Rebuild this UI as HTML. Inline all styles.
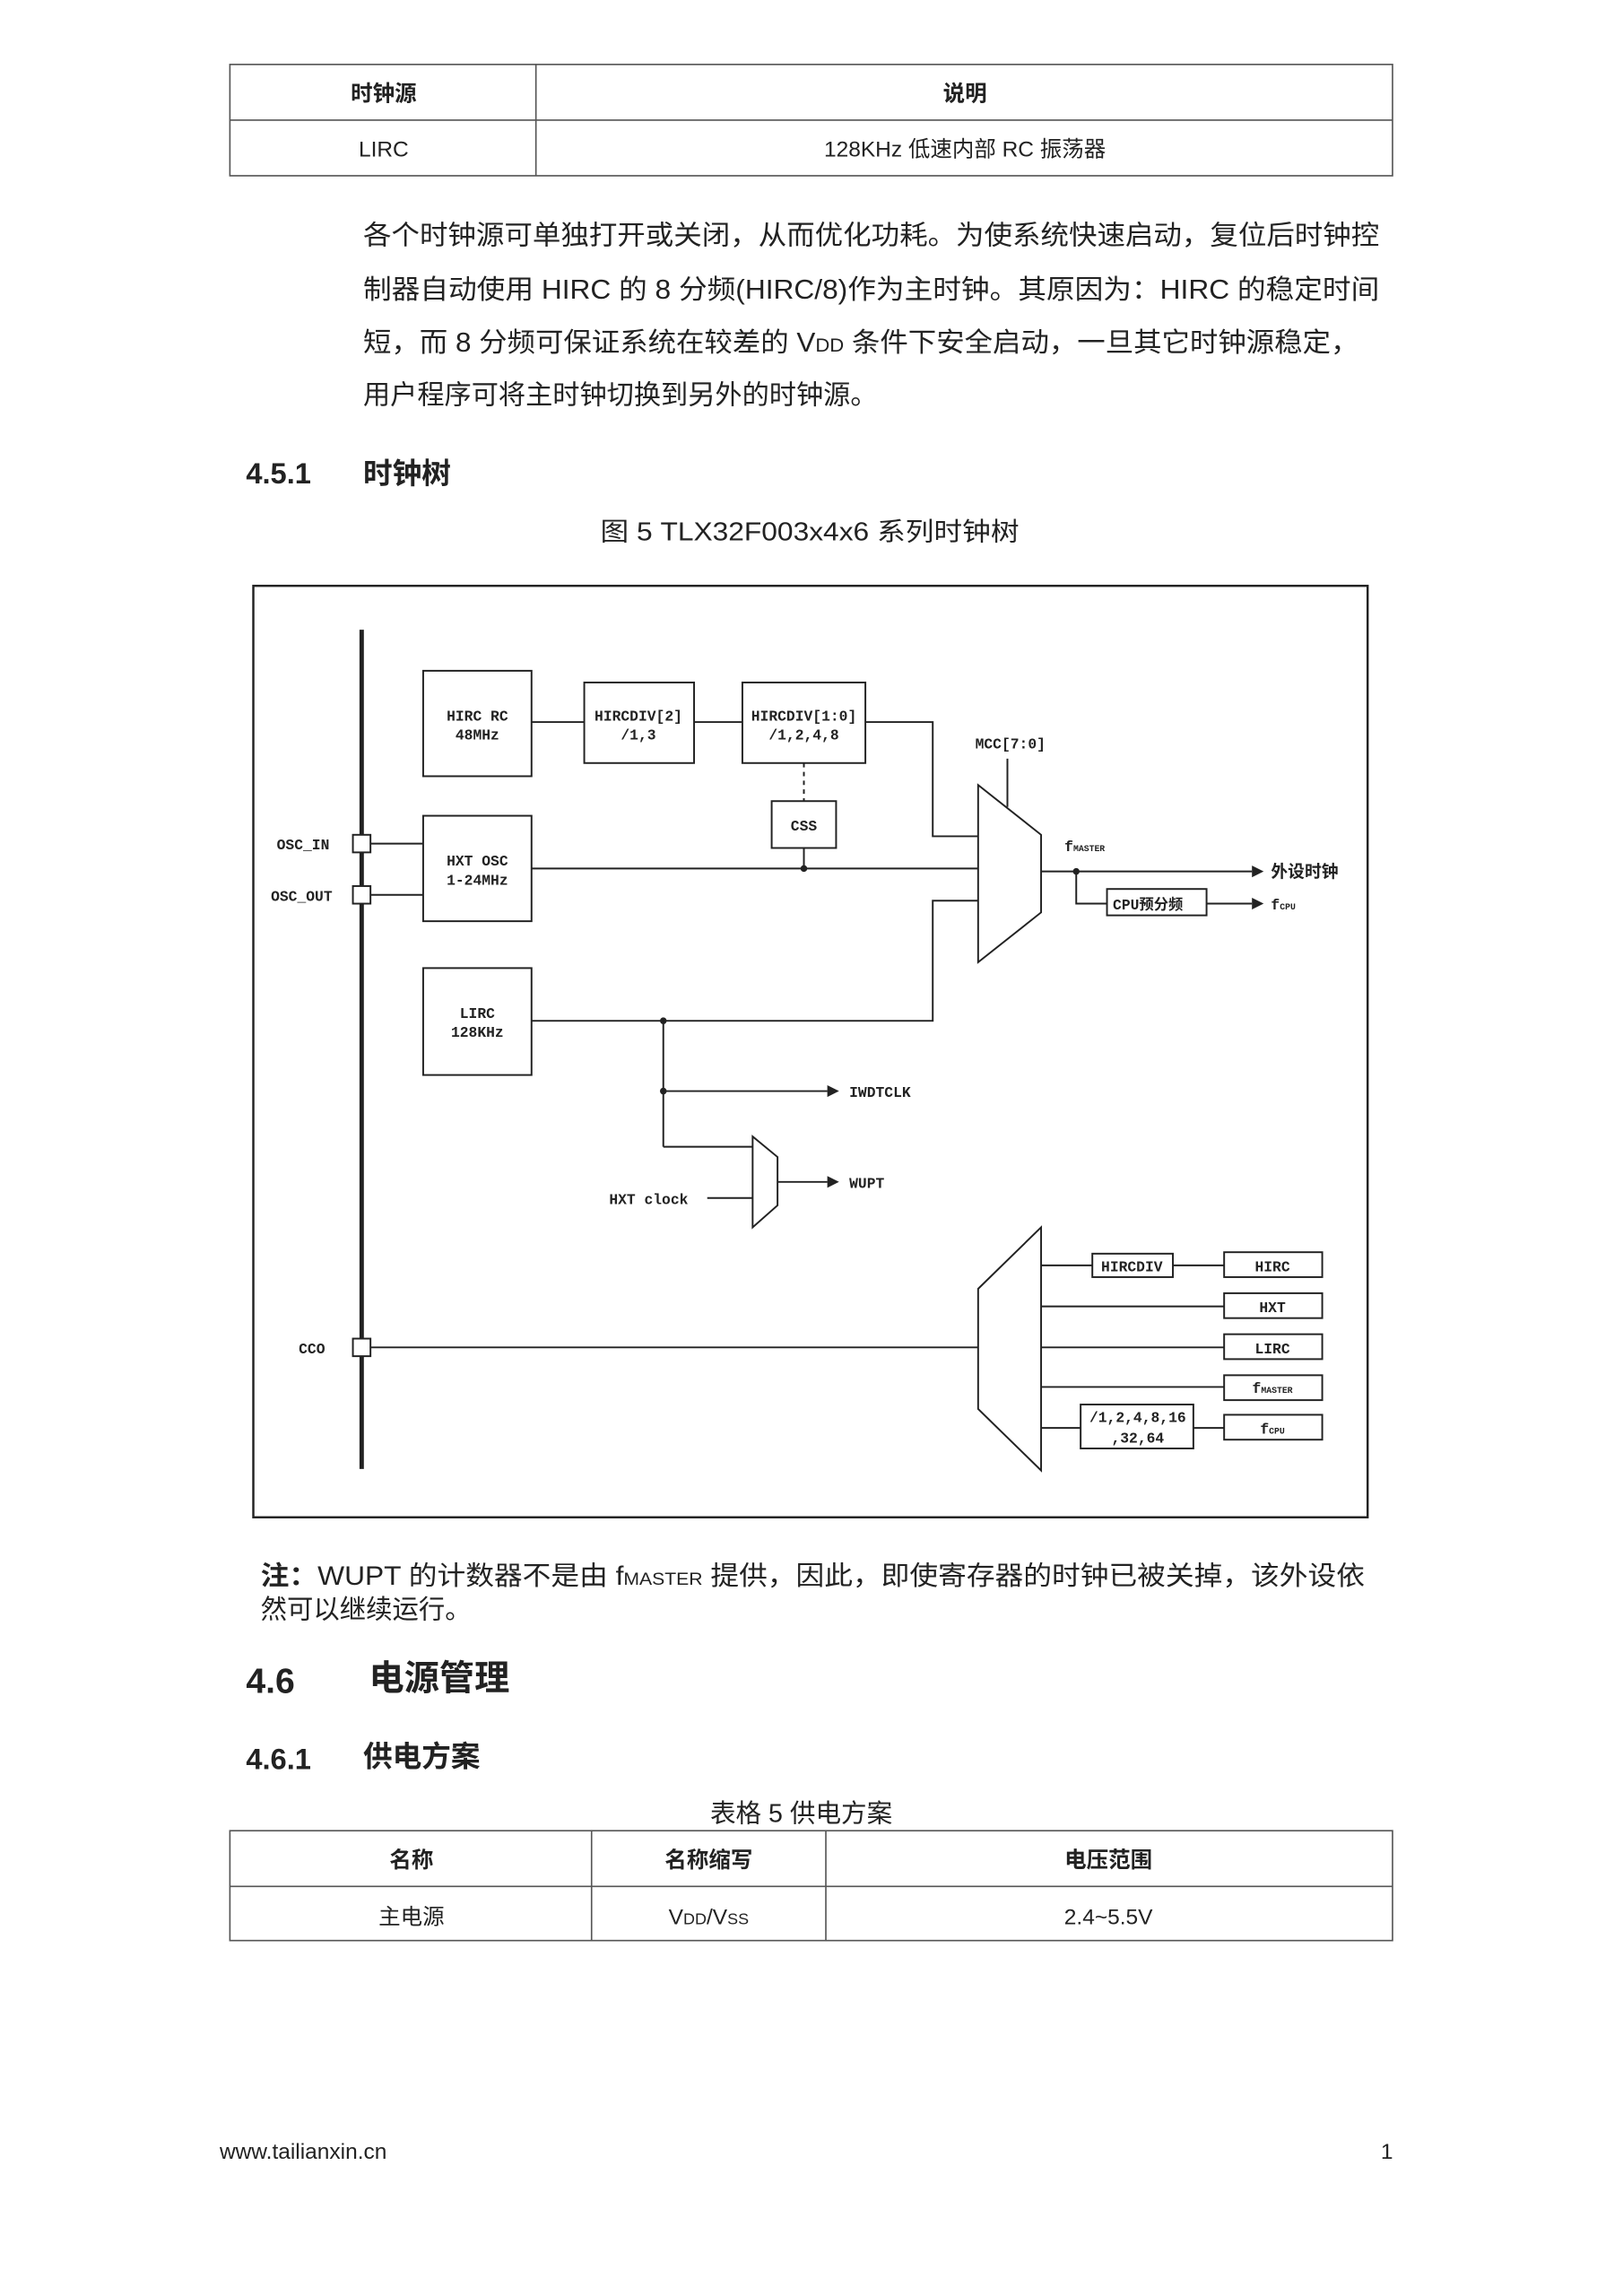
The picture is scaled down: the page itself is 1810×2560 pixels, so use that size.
<!DOCTYPE html>
<html><head><meta charset="utf-8"><style>
html,body{margin:0;padding:0;background:#fff}
svg{display:block}
text{font-family:"Liberation Sans","Noto Sans CJK SC",sans-serif;fill:#222}
.m{font-family:"Liberation Mono","Noto Sans CJK SC",monospace;font-size:10px;font-weight:bold;fill:#222}
</style></head><body>
<svg width="1810" height="2560" viewBox="0 0 1108.4 1567.7" xmlns="http://www.w3.org/2000/svg">
<g stroke="#555" stroke-width="1" fill="none">
<rect x="157" y="44" width="794" height="76"/><line x1="157" y1="82" x2="951" y2="82"/><line x1="366" y1="44" x2="366" y2="120"/>
<rect x="157" y="1250" width="794" height="75"/><line x1="157" y1="1288" x2="951" y2="1288"/><line x1="404" y1="1250" x2="404" y2="1325"/><line x1="564" y1="1250" x2="564" y2="1325"/>
</g>
<g font-size="15" text-anchor="middle">
<text x="262" y="69" font-weight="bold">时钟源</text><text x="659" y="69" font-weight="bold">说明</text>
<text x="262" y="107">LIRC</text><text x="659" y="107">128KHz 低速内部 RC 振荡器</text>
<text x="281" y="1275" font-weight="bold">名称</text><text x="484" y="1275" font-weight="bold">名称缩写</text><text x="757" y="1275" font-weight="bold">电压范围</text>
<text x="281" y="1314">主电源</text><text x="484" y="1314">V<tspan font-size="11">DD</tspan>/V<tspan font-size="11">SS</tspan></text><text x="757" y="1314">2.4~5.5V</text>
</g>
<g font-size="18.5">
<text x="248" y="167" textLength="694" lengthAdjust="spacingAndGlyphs">各个时钟源可单独打开或关闭，从而优化功耗。为使系统快速启动，复位后时钟控</text>
<text x="248" y="204" textLength="694" lengthAdjust="spacingAndGlyphs">制器自动使用 HIRC 的 8 分频(HIRC/8)作为主时钟。其原因为：HIRC 的稳定时间</text>
<text x="248" y="240" textLength="680" lengthAdjust="spacingAndGlyphs">短，而 8 分频可保证系统在较差的 V<tspan font-size="13">DD</tspan> 条件下安全启动，一旦其它时钟源稳定，</text>
<text x="248" y="276">用户程序可将主时钟切换到另外的时钟源。</text>
<text x="410" y="369" font-size="17.5" textLength="286" lengthAdjust="spacingAndGlyphs">图 5 TLX32F003x4x6 系列时钟树</text>
<text x="178" y="1082" font-size="18" textLength="754" lengthAdjust="spacingAndGlyphs"><tspan font-weight="bold">注：</tspan>WUPT 的计数器不是由 f<tspan font-size="12">MASTER</tspan> 提供，因此，即使寄存器的时钟已被关掉，该外设依</text>
<text x="178" y="1105" font-size="18">然可以继续运行。</text>
<text x="485" y="1244" font-size="17.5">表格 5 供电方案</text>
</g>
<g font-weight="bold">
<text x="168" y="330" font-size="20">4.5.1</text><text x="248" y="330" font-size="20">时钟树</text>
<text x="168" y="1156" font-size="24">4.6</text><text x="252" y="1154" font-size="24">电源管理</text>
<text x="168" y="1208" font-size="20">4.6.1</text><text x="248" y="1206" font-size="20">供电方案</text>
</g>
<text x="150" y="1474" font-size="15">www.tailianxin.cn</text><text x="943" y="1474" font-size="15">1</text>

<g stroke="#222" fill="none" stroke-width="1.2">
<rect x="173" y="400" width="761" height="636" stroke-width="1.5"/>
<line x1="247" y1="430" x2="247" y2="1003" stroke-width="3"/>
<rect x="241" y="570" width="12" height="12" fill="#fff"/>
<rect x="241" y="605" width="12" height="12" fill="#fff"/>
<rect x="241" y="914" width="12" height="12" fill="#fff"/>
<line x1="253" y1="576" x2="289" y2="576"/><line x1="253" y1="611" x2="289" y2="611"/>
<rect x="289" y="458" width="74" height="72"/>
<rect x="399" y="466" width="75" height="55"/>
<rect x="507" y="466" width="84" height="55"/>
<rect x="527" y="547" width="44" height="32"/>
<rect x="289" y="557" width="74" height="72"/>
<rect x="289" y="661" width="74" height="73"/>
<line x1="363" y1="493" x2="399" y2="493"/><line x1="474" y1="493" x2="507" y2="493"/>
<line x1="549" y1="521" x2="549" y2="547" stroke-dasharray="3,3"/>
<line x1="549" y1="579" x2="549" y2="593"/>
<polyline points="591,493 637,493 637,571 668,571"/>
<line x1="363" y1="593" x2="668" y2="593"/>
<polyline points="363,697 637,697 637,615 668,615"/>
<polygon points="668,536 711,570 711,623 668,657"/>
<line x1="688" y1="518" x2="688" y2="551"/>
<line x1="711" y1="595" x2="855" y2="595"/>
<polyline points="735,595 735,617 756,617"/>
<rect x="756" y="607" width="68" height="18"/>
<line x1="824" y1="617" x2="855" y2="617"/>
<line x1="453" y1="697" x2="453" y2="783"/><line x1="453" y1="783" x2="514" y2="783"/>
<line x1="453" y1="745" x2="565" y2="745"/>
<polygon points="514,776 531,790 531,823 514,838"/>
<line x1="483" y1="818" x2="514" y2="818"/>
<line x1="531" y1="807" x2="565" y2="807"/>
<line x1="253" y1="920" x2="668" y2="920"/>
<polygon points="668,880 711,838 711,1004 668,962"/>
<line x1="711" y1="864" x2="746" y2="864"/><rect x="746" y="856" width="55" height="16"/><line x1="801" y1="864" x2="836" y2="864"/>
<line x1="711" y1="892" x2="836" y2="892"/><line x1="711" y1="920" x2="836" y2="920"/><line x1="711" y1="947" x2="836" y2="947"/>
<line x1="711" y1="975" x2="738" y2="975"/><rect x="738" y="959" width="77" height="30"/><line x1="815" y1="975" x2="836" y2="975"/>
<rect x="836" y="855" width="67" height="17"/><rect x="836" y="883" width="67" height="17"/><rect x="836" y="911" width="67" height="17"/><rect x="836" y="939" width="67" height="17"/><rect x="836" y="966" width="67" height="17"/>
</g>
<g fill="#222">
<circle cx="549" cy="593" r="2.3"/><circle cx="735" cy="595" r="2.3"/><circle cx="453" cy="697" r="2.3"/><circle cx="453" cy="745" r="2.3"/>
<polygon points="855,591 863,595 855,599"/><polygon points="855,613 863,617 855,621"/>
<polygon points="565,741 573,745 565,749"/><polygon points="565,803 573,807 565,811"/>
</g>
<g class="m" text-anchor="middle">
<text class="m" x="326" y="492">HIRC RC</text><text class="m" x="326" y="505">48MHz</text>
<text class="m" x="436" y="492">HIRCDIV[2]</text><text class="m" x="436" y="505">/1,3</text>
<text class="m" x="549" y="492">HIRCDIV[1:0]</text><text class="m" x="549" y="505">/1,2,4,8</text>
<text class="m" x="549" y="567">CSS</text>
<text class="m" x="326" y="591">HXT OSC</text><text class="m" x="326" y="604">1-24MHz</text>
<text class="m" x="326" y="695">LIRC</text><text class="m" x="326" y="708">128KHz</text>
<text class="m" x="690" y="511">MCC[7:0]</text>
<text class="m" x="773" y="868">HIRCDIV</text>
<text class="m" x="869" y="868">HIRC</text><text class="m" x="869" y="896">HXT</text><text class="m" x="869" y="924">LIRC</text>
<text class="m" x="869" y="951">f<tspan font-size="6">MASTER</tspan></text><text class="m" x="869" y="979">f<tspan font-size="6">CPU</tspan></text>
<text class="m" x="777" y="971">/1,2,4,8,16</text><text class="m" x="777" y="985">,32,64</text>
</g>
<g class="m">
<text class="m" x="189" y="580">OSC_IN</text><text class="m" x="185" y="615">OSC_OUT</text><text class="m" x="204" y="924">CCO</text>
<text class="m" x="727" y="581">f<tspan font-size="6">MASTER</tspan></text>
<text x="868" y="599" font-size="11.5" font-weight="bold">外设时钟</text>
<text class="m" x="760" y="621" font-family="Liberation Sans,Noto Sans CJK SC,sans-serif" font-size="10.5">CPU预分频</text>
<text class="m" x="868" y="621">f<tspan font-size="6">CPU</tspan></text>
<text class="m" x="580" y="749">IWDTCLK</text><text class="m" x="580" y="811">WUPT</text>
<text class="m" x="416" y="822" font-weight="normal">HXT clock</text>
</g>
</svg>
</body></html>
